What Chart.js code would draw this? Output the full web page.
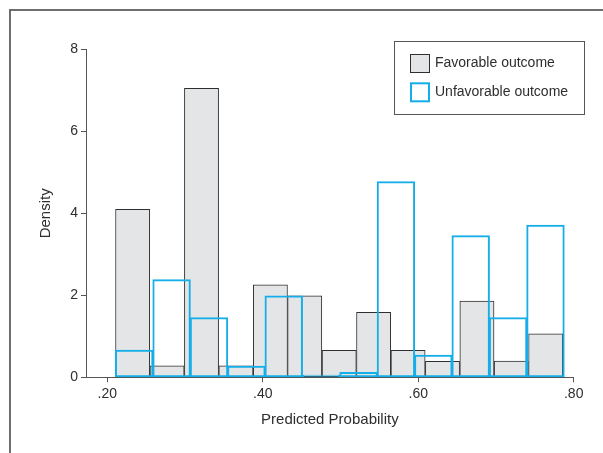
<!DOCTYPE html>
<html>
<head>
<meta charset="utf-8">
<script src="https://cdn.jsdelivr.net/npm/chart.js@4.4.1/dist/chart.umd.min.js"></script>
<style>
  html, body { margin: 0; padding: 0; background: #ffffff; }
  #wrap { width: 603px; height: 453px; position: relative; }
</style>
</head>
<body>
<div id="wrap"><canvas id="c" width="603" height="453"></canvas></div>
<script>
// ---- data ----
const seriesLabels = ['Favorable outcome', 'Unfavorable outcome'];

// bin centres (predicted probability) and densities, favorable outcome (13 bins)
const favBinCenters = [0.2326, 0.2769, 0.3212, 0.3655, 0.4098, 0.4540, 0.4983, 0.5426, 0.5869, 0.6312, 0.6755, 0.7197, 0.7640];
const favDensity    = [4.10,   0.28,   7.05,   0.28,   2.26,   1.99,   0.66,   1.585,  0.66,   0.39,   1.86,   0.40,   1.06];

// bin centres and densities, unfavorable outcome (12 bins)
const unfavBinCenters = [0.2346, 0.2827, 0.3308, 0.3789, 0.4270, 0.4751, 0.5232, 0.5713, 0.6194, 0.6675, 0.7156, 0.7637];
const unfavDensity    = [0.66,   2.38,   1.45,   0.27,   1.98,   0,      0.12,   4.77,   0.54,   3.45,   1.45,   3.71];

const xTickValues = [0.2, 0.4, 0.6, 0.8];
const xTickLabels = ['.20', '.40', '.60', '.80'];
const yTickValues = [0, 2, 4, 6, 8];
const yTickLabels = ['0', '2', '4', '6', '8'];
const xRange = [0.1726, 0.8];
const yRange = [0, 8];

// ---- styling ----
const FONT = "'Liberation Sans', Arial, Helvetica, sans-serif";
const TEXT = '#2e2e2e';
const AXIS = '#555555';
const GRAY_FILL = '#e4e5e7';
const GRAY_EDGE = '#2f2f2f';
const CYAN = '#14aee9';

const toPoints = (xs, ys) => xs.map((x, i) => ({ x: x, y: ys[i] }));

const frame = {
  id: 'frame',
  beforeDraw(chart) {
    const ctx = chart.ctx;
    ctx.save();
    ctx.strokeStyle = '#6e6e6e';
    ctx.lineWidth = 2;
    ctx.beginPath();
    ctx.moveTo(10, chart.height);
    ctx.lineTo(10, 10);
    ctx.lineTo(chart.width, 10);
    ctx.stroke();
    ctx.restore();
  }
};

const boxLegend = {
  id: 'boxLegend',
  afterDatasetsDraw(chart) {
    const ctx = chart.ctx;
    const a = chart.chartArea;
    const ds = chart.data.datasets;
    const left = Math.round(a.right - 180) + 0.5;
    const top = Math.round(a.top - 8) + 0.5;
    ctx.save();
    ctx.fillStyle = '#ffffff';
    ctx.fillRect(left, top, 190, 73);
    ctx.strokeStyle = AXIS;
    ctx.lineWidth = 1;
    ctx.strokeRect(left, top, 190, 73);

    // item 1: favorable
    const sx = left + 16;
    ctx.fillStyle = ds[0].backgroundColor;
    ctx.fillRect(sx, top + 13, 19, 18);
    ctx.strokeStyle = ds[0].borderColor;
    ctx.lineWidth = 1;
    ctx.strokeRect(sx, top + 13, 19, 18);

    // item 2: unfavorable
    ctx.strokeStyle = ds[1].borderColor;
    ctx.lineWidth = 2;
    ctx.strokeRect(sx + 0.5, top + 41.8, 18, 18);

    ctx.fillStyle = TEXT;
    ctx.font = '14px ' + FONT;
    ctx.textAlign = 'left';
    ctx.textBaseline = 'middle';
    ctx.fillText(ds[0].label, left + 40.5, top + 22);
    ctx.fillText(ds[1].label, left + 40.5, top + 51);
    ctx.restore();
  }
};

const xAxisCommon = {
  type: 'linear',
  min: xRange[0],
  max: xRange[1],
  offset: false,
  afterBuildTicks: axis => { axis.ticks = xTickValues.map(v => ({ value: v })); }
};

new Chart(document.getElementById('c'), {
  type: 'bar',
  data: {
    datasets: [
      {
        label: seriesLabels[0],
        data: toPoints(favBinCenters, favDensity),
        xAxisID: 'x',
        backgroundColor: GRAY_FILL,
        borderColor: GRAY_EDGE,
        borderWidth: 1,
        borderSkipped: false,
        inflateAmount: 0.25,
        barPercentage: 1,
        categoryPercentage: 1,
        grouped: false,
        order: 2
      },
      {
        label: seriesLabels[1],
        data: toPoints(unfavBinCenters, unfavDensity),
        xAxisID: 'x2',
        backgroundColor: 'rgba(0,0,0,0)',
        borderColor: CYAN,
        borderWidth: 1,
        inflateAmount: 0.5,
        borderSkipped: false,
        minBarLength: 2,
        barPercentage: 1,
        categoryPercentage: 1,
        grouped: false,
        order: 1
      }
    ]
  },
  options: {
    responsive: false,
    animation: false,
    layout: { padding: { left: 0, top: 49.3, right: 29.3, bottom: 0 } },
    plugins: {
      legend: { display: false },
      tooltip: { enabled: false },
      title: { display: false }
    },
    scales: {
      x: Object.assign({}, xAxisCommon, {
        position: 'bottom',
        afterFit: s => { s.height = 75.7; },
        grid: { display: true, drawOnChartArea: false, drawTicks: true, tickLength: 5, color: AXIS, tickColor: AXIS, offset: false },
        border: { display: true, color: AXIS, width: 1 },
        ticks: {
          color: TEXT,
          font: { family: FONT, size: 14 },
          padding: 3,
          maxRotation: 0,
          autoSkip: false,
          callback: v => xTickLabels[xTickValues.indexOf(v)]
        },
        title: {
          display: true,
          text: 'Predicted Probability',
          color: TEXT,
          font: { family: FONT, size: 15 },
          padding: { top: 0, bottom: 24.5 }
        }
      }),
      x2: Object.assign({}, xAxisCommon, {
        position: 'bottom',
        display: false,
        grid: { offset: false }
      }),
      y: {
        type: 'linear',
        position: 'left',
        min: yRange[0],
        max: yRange[1],
        afterBuildTicks: axis => { axis.ticks = yTickValues.map(v => ({ value: v })); },
        afterFit: s => { s.width = 86; },
        grid: { display: true, drawOnChartArea: false, drawTicks: true, tickLength: 5, color: AXIS, tickColor: AXIS },
        border: { display: true, color: AXIS, width: 1 },
        ticks: {
          color: TEXT,
          font: { family: FONT, size: 14 },
          padding: 3,
          callback: v => yTickLabels[yTickValues.indexOf(v)]
        },
        title: {
          display: true,
          text: 'Density',
          color: TEXT,
          font: { family: FONT, size: 15 },
          padding: { top: 36.5, bottom: 0 }
        }
      }
    }
  },
  plugins: [frame, boxLegend]
});
</script>
</body>
</html>
